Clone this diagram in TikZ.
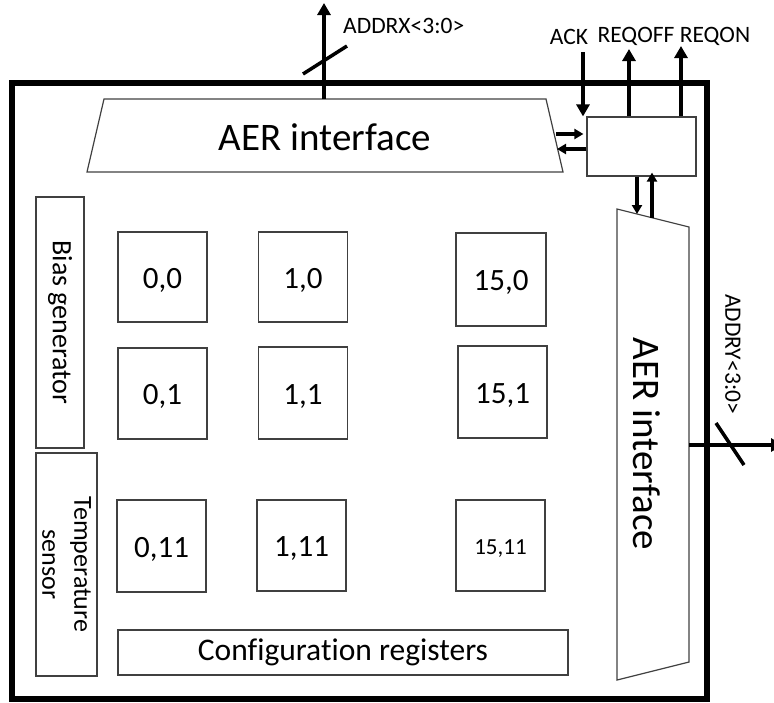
\documentclass[tikz,border=0pt]{standalone}
\usepackage{fontspec}
\setmainfont{Carlito}[Ligatures=NoCommon]
\usetikzlibrary{arrows.meta}
\begin{document}
\begin{tikzpicture}[x=1pt,y=-1pt,
  box/.style={draw=black!75, line width=1.2pt, inner sep=0pt},
  cell/.style={box, minimum width=89pt, minimum height=90pt, text height=24pt, text depth=1.4pt,
    font=\fontsize{31}{34}\selectfont},
  sig/.style={line width=3.5pt, -{Triangle[length=12pt,width=13pt]}},
  sigs/.style={line width=3.5pt, -{Triangle[length=9pt,width=10pt]}},
  slash/.style={line width=3.5pt},
  lbl/.style={font=\fontsize{23.5}{25}\selectfont, inner sep=0pt},
  big/.style={font=\fontsize{39}{42}\selectfont, inner sep=0pt},
  mid/.style={font=\fontsize{28}{32}\selectfont},
]
\useasboundingbox (0,0) rectangle (774,702);

% outer frame
\draw[line width=6pt] (11.5,83) rectangle (707,698.5);

% top AER interface
\draw[box] (104,99) -- (546,99) -- (563,172) -- (87,172) -- cycle;
\node[big] (aerx) at (325,137) {AER interface};
\coordinate (aerxtop) at (324,99);

% right AER interface
\draw[box] (617,209) -- (689,227) -- (689,662) -- (617,680) -- cycle;
\node[big, rotate=-90] (aery) at (647,444) {AER interface};
\coordinate (aeryright) at (689,445);

% control box
\node[box, minimum width=109pt, minimum height=59pt] (ctrl) at (641.5,146.5) {};

% side blocks
\node[box, mid, rotate=-90, minimum width=251pt, minimum height=48pt] (bias) at (60,322.5) {Bias generator};
\node[box, rotate=-90, minimum width=223pt, minimum height=61pt, align=center,
      font=\fontsize{26}{32}\selectfont] (temp) at (66.5,564.5) {Temperature\\sensor};
\node[box, minimum width=450pt, minimum height=45pt, font=\fontsize{31.5}{34}\selectfont] (conf) at (343,652.5) {Configuration registers};

% cells
\node[cell] (c00) at (162.5,277) {0,0};
\node[cell] (c10) at (303,277) {1,0};
\node[cell, minimum width=90pt, minimum height=93pt] (c150) at (501,279.5) {15,0};
\node[cell, minimum height=91pt] (c01) at (162.5,393.5) {0,1};
\node[cell, minimum height=92pt] (c11) at (303,393) {1,1};
\node[cell, minimum height=92pt] (c151) at (502.5,392) {15,1};
\node[cell, minimum height=92pt] (c011) at (161.5,546) {0,11};
\node[cell, minimum height=91pt] (c111) at (301.5,545.5) {1,11};
\node[cell, minimum height=91pt, text height=18pt, text depth=0.5pt,
      font=\fontsize{23}{25}\selectfont] (c1511) at (500.5,545.5) {15,11};

% ADDRX
\coordinate (addrx) at (324,3);
\draw[sig] (aerxtop) -- (addrx);
\draw[slash] (303,74) -- (347,46);
\node[lbl, anchor=west] (addrxl) at (343,26) {ADDRX<3:0>};

% ACK / REQOFF / REQON
\coordinate (ack) at (583,52);
\coordinate (reqoff) at (629,49);
\coordinate (reqon) at (681,46);
\draw[sig] (ack) -- (ack |- ctrl.north);
\draw[sig] (reqoff |- ctrl.north) -- (reqoff);
\draw[sig] (reqon |- ctrl.north) -- (reqon);
\node[lbl] (ackl) at (569,37) {ACK};
\node[lbl] (reqoffl) at (636,36) {REQOFF};
\node[lbl] (reqonl) at (715,36) {REQON};

% AER X <-> control
\coordinate (ax1) at (556,134);
\coordinate (ax2) at (557,149);
\draw[sigs] (ax1) -- ([xshift=-3pt]ax1 -| ctrl.west);
\draw[sigs] (ax2 -| ctrl.west) -- (ax2);

% control <-> AER Y
\coordinate (ay1) at (637,214);
\coordinate (ay2) at (652,218);
\draw[sigs] (ay1 |- ctrl.south) -- (ay1);
\draw[sigs] (ay2) -- ([yshift=4pt]ay2 |- ctrl.south);

% ADDRY
\coordinate (addry) at (783,445);
\draw[sig] (aeryright) -- (addry);
\draw[slash] (716,423) -- (744,465);
\node[lbl, rotate=-90] (addryl) at (733,354) {ADDRY<3:0>};
\end{tikzpicture}
\end{document}
